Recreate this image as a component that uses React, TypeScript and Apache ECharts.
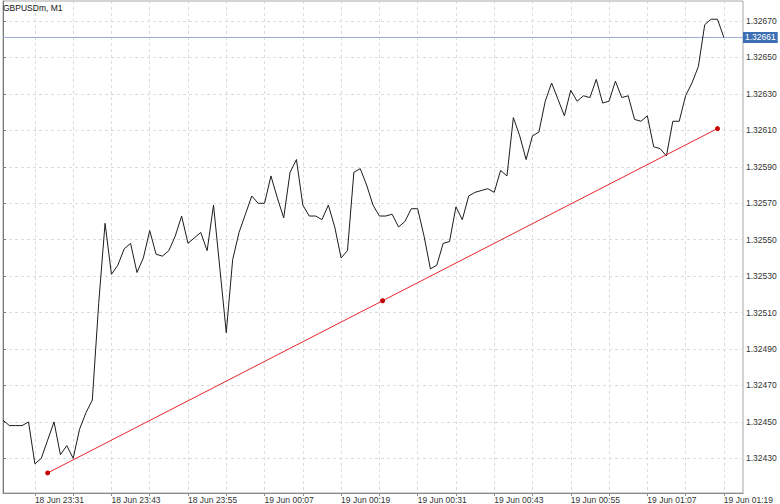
import React, { useEffect, useRef } from "react";
import * as echarts from "echarts";

// Close prices, one per minute, starting 18 Jun 23:26 (index 0)
const closes: number[] = [
  1.32451, 1.32448, 1.32448, 1.32448, 1.3245, 1.32427, 1.3243, 1.3244, 1.3245, 1.32432,
  1.32437, 1.3243, 1.32446, 1.32455, 1.32462, 1.32515, 1.32559, 1.32531, 1.32536, 1.32545,
  1.32548, 1.32532, 1.3254, 1.32555, 1.32542, 1.32541, 1.32544, 1.32552, 1.32563, 1.32548,
  1.32551, 1.32554, 1.32544, 1.32569, 1.32534, 1.32499, 1.32539, 1.32554, 1.32564, 1.32574,
  1.3257, 1.3257, 1.32585, 1.32573, 1.32562, 1.32587, 1.32594, 1.32569, 1.32563, 1.32563,
  1.32561, 1.32569, 1.32557, 1.3254, 1.32544, 1.32587, 1.32589, 1.3258, 1.32569, 1.32563,
  1.32563, 1.32564, 1.32557, 1.3256, 1.32567, 1.32567, 1.32552, 1.32534, 1.32536, 1.32548,
  1.32549, 1.32568, 1.32561, 1.32574, 1.32576, 1.32577, 1.32578, 1.32576, 1.32588, 1.32585,
  1.32617, 1.32607, 1.32594, 1.32607, 1.32609, 1.32626, 1.32636, 1.32627, 1.32618, 1.32632,
  1.32626, 1.32629, 1.32628, 1.32638, 1.32625, 1.32626, 1.32637, 1.32628, 1.32629, 1.32616,
  1.32615, 1.32618, 1.32601, 1.326, 1.32596, 1.32615, 1.32615, 1.32629, 1.32636, 1.32645,
  1.32668, 1.32671, 1.32671, 1.32661,
];

// Trend line anchors: [minute index, price]
const trendPoints: [number, number][] = [
  [7, 1.32422],
  [59.5, 1.325165],
  [112, 1.32611],
];

const currentPrice = 1.32661;

// X axis range in minute indexes
const xMin = 0;
const xMax = 116;

// X axis tick labels (every 12 minutes, first one at minute index 5)
const xTickLabels: string[] = [
  "18 Jun 23:31", "18 Jun 23:43", "18 Jun 23:55", "19 Jun 00:07", "19 Jun 00:19",
  "19 Jun 00:31", "19 Jun 00:43", "19 Jun 00:55", "19 Jun 01:07", "19 Jun 01:19",
];
const xLabelMinutes: number[] = [5, 17, 29, 41, 53, 65, 77, 89, 101, 113];
const xGridMinutes: number[] = [5, 11, 17, 23, 29, 35, 41, 47, 53, 59, 65, 71, 77, 83, 89, 95, 101, 107, 113];

// Y axis tick values
const yTicks: number[] = [
  1.3243, 1.3245, 1.3247, 1.3249, 1.3251, 1.3253, 1.3255, 1.3257, 1.3259, 1.3261, 1.3263, 1.3265, 1.3267,
];

const FONT = "'Liberation Sans', Arial, sans-serif";

export default function App() {
  const ref = useRef<HTMLDivElement>(null);
  useEffect(() => {
    if (!ref.current) return;
    const chart = echarts.init(ref.current, null, { renderer: "svg" });
    chart.setOption({
      animation: false,
      backgroundColor: "#ffffff",
      title: {
        text: "GBPUSDm, M1",
        left: 3,
        top: 3,
        padding: 0,
        textStyle: { fontSize: 8.5, fontWeight: "normal", color: "#111", fontFamily: FONT },
      },
      grid: {
        left: 3,
        right: 37,
        top: 1,
        bottom: 11,
        show: true,
        borderColor: "#a8a8a8",
        borderWidth: 1,
        outerBoundsMode: "none",
      },
      xAxis: {
        type: "value",
        min: xMin,
        max: xMax,
        axisLine: { show: true, lineStyle: { color: "#8a8a8a", width: 1 } },
        axisTick: {
          show: true,
          length: 3,
          customValues: xGridMinutes,
          lineStyle: { color: "#8a8a8a" },
        },
        axisLabel: {
          customValues: xLabelMinutes,
          formatter: (v: number) => {
            const i = xLabelMinutes.indexOf(Math.round(v));
            return i >= 0 ? xTickLabels[i] : "";
          },
          align: "left",
          margin: 2,
          fontSize: 8.5,
          fontFamily: FONT,
          color: "#333",
          hideOverlap: false,
        },
        splitLine: { show: true, lineStyle: { color: "#dcdcdc", width: 1, type: [3, 3] } },
      },
      yAxis: {
        type: "value",
        position: "right",
        min: 1.32411,
        max: 1.32681,
        axisLine: { show: true, lineStyle: { color: "#7a7a7a", width: 1 } },
        axisTick: { show: true, length: 3, customValues: yTicks, lineStyle: { color: "#7a7a7a" } },
        axisLabel: {
          customValues: yTicks,
          formatter: (v: number) => v.toFixed(5),
          margin: 3,
          fontSize: 8.5,
          fontFamily: FONT,
          color: "#333",
        },
        splitLine: { show: true, lineStyle: { color: "#dcdcdc", width: 1, type: [3, 3] } },
      },
      series: [
        {
          type: "line",
          data: [
            [xMin, currentPrice],
            [xMax, currentPrice],
          ],
          symbol: "none",
          silent: true,
          lineStyle: { color: "#98acd8", width: 1 },
          endLabel: {
            show: true,
            distance: 0,
            formatter: () => currentPrice.toFixed(5),
            backgroundColor: "#3d6fb4",
            color: "#ffffff",
            padding: [1, 2, 1, 2],
            fontSize: 8.5,
            fontFamily: FONT,
          },
          z: 1,
        },
        {
          type: "line",
          data: closes.map((v, i) => [i, v]),
          symbol: "none",
          lineStyle: { color: "#1c1c1c", width: 1 },
          silent: true,
          z: 3,
        },
        {
          type: "line",
          data: trendPoints,
          symbol: "circle",
          symbolSize: 5,
          showSymbol: true,
          lineStyle: { color: "#e8262b", width: 1 },
          itemStyle: { color: "#c40000" },
          silent: true,
          z: 4,
        },
      ],
    });
    return () => chart.dispose();
  }, []);
  return (
    <div
      ref={ref}
      style={{ position: "fixed", left: 0, top: 0, width: 780, height: 504 }}
    />
  );
}
